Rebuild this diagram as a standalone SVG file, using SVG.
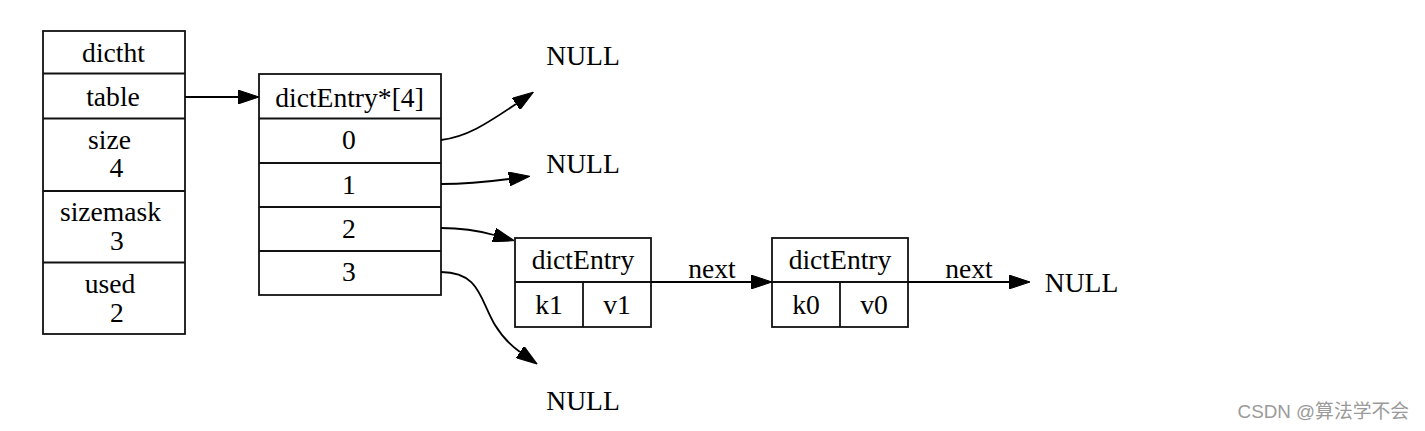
<svg xmlns="http://www.w3.org/2000/svg" width="1425" height="431" viewBox="0 0 1425 431">
<style>
.box{fill:#fff;stroke:#111;stroke-width:1.8}
.ln{fill:none;stroke:#111;stroke-width:1.8}
.t{font-family:"Liberation Serif","Times New Roman",serif;font-size:27.6px;fill:#000;text-anchor:middle}
.e{fill:none;stroke:#000;stroke-width:1.8}
.wm{font-family:"Liberation Sans","Noto Sans CJK SC",sans-serif;font-size:18.8px;fill:#9a9a9a;text-anchor:end}
</style>
<defs>
<marker id="ah" markerUnits="userSpaceOnUse" viewBox="0 -7 21 14" markerWidth="21" markerHeight="14" refX="0" refY="0" orient="auto">
<path d="M0,-7 L21,0 L0,7 z" fill="#000" stroke="#000" stroke-width="1"/>
</marker>
</defs>
<rect width="1425" height="431" fill="#fff"/>
<g id="dictht">
<rect class="box" x="43" y="31" width="142" height="303"/>
<line class="ln" x1="43" y1="73.5" x2="185" y2="73.5"/>
<line class="ln" x1="43" y1="118.5" x2="185" y2="118.5"/>
<line class="ln" x1="43" y1="191" x2="185" y2="191"/>
<line class="ln" x1="43" y1="262.5" x2="185" y2="262.5"/>
<text class="t" x="113.5" y="62">dictht</text>
<text class="t" x="113" y="106">table</text>
<text class="t" x="109.5" y="149">size</text>
<text class="t" x="116.5" y="177">4</text>
<text class="t" x="110.5" y="221">sizemask</text>
<text class="t" x="117" y="250">3</text>
<text class="t" x="110" y="293">used</text>
<text class="t" x="117" y="322">2</text>
</g>
<g id="table">
<rect class="box" x="259" y="74" width="182" height="221"/>
<line class="ln" x1="259" y1="118.5" x2="441" y2="118.5"/>
<line class="ln" x1="259" y1="163" x2="441" y2="163"/>
<line class="ln" x1="259" y1="207" x2="441" y2="207"/>
<line class="ln" x1="259" y1="251" x2="441" y2="251"/>
<text class="t" x="349.5" y="107">dictEntry*[4]</text>
<text class="t" x="349" y="149">0</text>
<text class="t" x="349" y="194">1</text>
<text class="t" x="349" y="238">2</text>
<text class="t" x="349" y="281">3</text>
</g>
<g id="entry1">
<rect class="box" x="515" y="238" width="136" height="89"/>
<line class="ln" x1="515" y1="282" x2="651" y2="282"/>
<line class="ln" x1="583" y1="282" x2="583" y2="327"/>
<text class="t" x="583" y="269">dictEntry</text>
<text class="t" x="549" y="314">k1</text>
<text class="t" x="617" y="314">v1</text>
</g>
<g id="entry0">
<rect class="box" x="772" y="238" width="136" height="89"/>
<line class="ln" x1="772" y1="282" x2="908" y2="282"/>
<line class="ln" x1="840" y1="282" x2="840" y2="327"/>
<text class="t" x="840" y="269">dictEntry</text>
<text class="t" x="806" y="314">k0</text>
<text class="t" x="874" y="314">v0</text>
</g>
<g id="null0"><text class="t" x="583" y="65">NULL</text></g>
<g id="null1"><text class="t" x="583" y="173">NULL</text></g>
<g id="null3"><text class="t" x="583" y="410">NULL</text></g>
<g id="null4"><text class="t" x="1081.5" y="292">NULL</text></g>
<g id="connectors">
<path class="e" d="M185,97 L238,97" marker-end="url(#ah)"/>
<path class="e" d="M441,140 C466,137 485,125 516,104" marker-end="url(#ah)"/>
<path class="e" d="M441,184 C470,184 490,181.5 509,179" marker-end="url(#ah)"/>
<path class="e" d="M441,228 C462,228 478,230.5 494,235" marker-end="url(#ah)"/>
<path class="e" d="M441,272 C480,272 480,300 495,325 C503,338 510,345 520,352" marker-end="url(#ah)"/>
<path class="e" d="M651,282 L751,282" marker-end="url(#ah)"/>
<path class="e" d="M908,282 L1009,282" marker-end="url(#ah)"/>
<text class="t" x="712" y="278">next</text>
<text class="t" x="969" y="278">next</text>
</g>
<text class="wm" x="1409" y="418">CSDN @算法学不会</text>
</svg>
